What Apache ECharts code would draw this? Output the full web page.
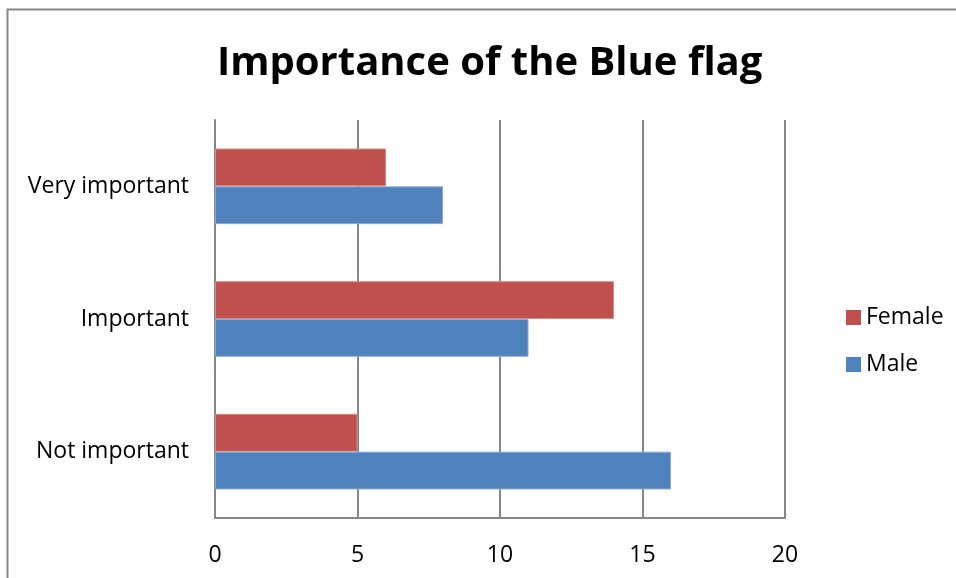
<!DOCTYPE html>
<html>
<head>
<meta charset="utf-8">
<script src="https://cdn.jsdelivr.net/npm/echarts@6/dist/echarts.min.js"></script>
<style>
  html, body { margin: 0; padding: 0; background: #fff; }
  #chart { width: 956px; height: 578px; }
</style>
</head>
<body>
<div id="chart"></div>
<script>
// Survey answers: how important the Blue flag is, split by gender
const categories = ['Very important', 'Important', 'Not important'];
const femaleValues = [6, 14, 5];
const maleValues = [8, 11, 16];
const xTicks = [0, 5, 10, 15, 20];

const FONT = '"Open Sans", "Liberation Sans", sans-serif';
const chart = echarts.init(document.getElementById('chart'));

chart.setOption({
  backgroundColor: '#ffffff',
  animation: false,
  title: {
    text: 'Importance of the Blue flag',
    left: 212,
    top: 39,
    textStyle: { fontFamily: FONT, fontSize: 40, fontWeight: 'bold', color: '#000' }
  },
  legend: {
    orient: 'vertical',
    left: 841,
    top: 301,
    itemWidth: 15,
    itemHeight: 15,
    itemGap: 24,
    icon: 'rect',
    itemStyle: { borderWidth: 0 },
    textStyle: { fontFamily: FONT, fontSize: 23, color: '#000', padding: [0, 0, 0, 0] },
    data: ['Female', 'Male']
  },
  grid: { left: 215, top: 120, width: 570, height: 398, containLabel: false },
  xAxis: {
    type: 'value',
    min: xTicks[0],
    max: xTicks[xTicks.length - 1],
    interval: xTicks[1] - xTicks[0],
    axisLine: { show: true, lineStyle: { color: '#868686', width: 2 } },
    axisTick: { show: false },
    splitLine: { show: true, lineStyle: { color: '#868686', width: 2 } },
    axisLabel: { margin: 26, fontFamily: FONT, fontSize: 23, color: '#000' }
  },
  yAxis: {
    type: 'category',
    inverse: true,
    data: categories,
    axisLine: { show: true, lineStyle: { color: '#868686', width: 2 } },
    axisTick: { show: false },
    axisLabel: { margin: 26, fontFamily: FONT, fontSize: 23, color: '#000', padding: [4, 0, 0, 0] }
  },
  series: [
    {
      name: 'Female',
      type: 'bar',
      data: femaleValues,
      barCategoryGap: '43%',
      barGap: '0%',
      itemStyle: { color: '#C0504D', borderColor: '#D88986', borderWidth: 1 }
    },
    {
      name: 'Male',
      type: 'bar',
      data: maleValues,
      barCategoryGap: '43%',
      barGap: '0%',
      itemStyle: { color: '#4F81BD', borderColor: '#8AAAD6', borderWidth: 1 }
    }
  ],
  graphic: [
    {
      type: 'rect',
      shape: { x: 7.5, y: 9.5, width: 1000, height: 1000 },
      style: { fill: 'none', stroke: '#868686', lineWidth: 2 },
      silent: true,
      z: -1
    }
  ]
});
</script>
</body>
</html>
